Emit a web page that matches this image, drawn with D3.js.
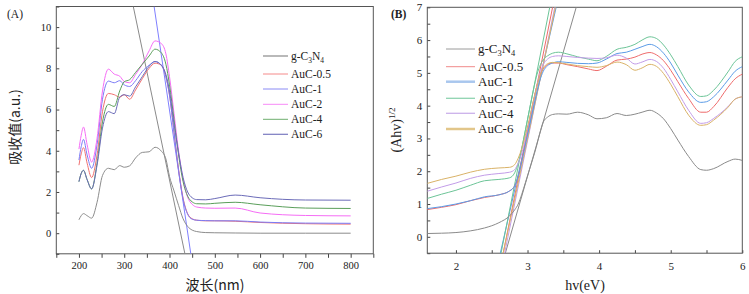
<!DOCTYPE html>
<html>
<head>
<meta charset="utf-8">
<style>
  body { margin: 0; background: #fff; }
  text { font-family: "Liberation Serif", "Times New Roman", serif; fill: #222; }
</style>
</head>
<body>
<script src="https://cdn.jsdelivr.net/npm/d3@7/dist/d3.min.js"></script>
<script>
// ---- data: panel A (absorbance vs wavelength) ----
var names = ["g-C3N4", "AuC-0.5", "AuC-1", "AuC-2", "AuC-4", "AuC-6"];
var waveNm = [200, 205, 210, 218, 228, 240, 252, 265, 278, 290, 300, 312, 325, 340, 355, 368, 382, 392, 400, 410, 420, 430, 440, 450, 460, 480, 500, 545, 600, 700, 800];
var absG   = [0.65, 0.85, 0.95, 0.85, 0.73, 1.5, 2.8, 3.15, 3.08, 3.28, 3.2, 3.27, 3.65, 3.92, 3.95, 4.17, 3.98, 3.6, 2.75, 2.05, 1.35, 0.7, 0.33, 0.15, 0.08, 0.03, 0.02, 0.01, 0, 0, 0];
var abs05  = [3.3, 3.85, 4.15, 3.4, 2.7, 3.8, 5.9, 6.78, 6.72, 6.6, 6.72, 6.5, 6.95, 7.5, 8.0, 8.25, 8.15, 7.6, 6.7, 4.9, 3.1, 1.7, 0.95, 0.7, 0.63, 0.6, 0.6, 0.58, 0.52, 0.46, 0.44];
var abs1   = [3.55, 4.2, 4.55, 3.8, 3.15, 4.3, 6.5, 7.38, 7.3, 7.4, 7.2, 7.12, 7.4, 7.85, 8.15, 8.33, 8.15, 7.6, 6.7, 4.9, 3.05, 1.65, 0.92, 0.68, 0.63, 0.61, 0.6, 0.6, 0.54, 0.49, 0.48];
var abs2   = [4.08, 4.75, 5.15, 4.3, 3.45, 4.6, 6.9, 7.96, 7.72, 7.62, 7.36, 7.3, 7.7, 8.2, 8.85, 9.33, 9.2, 8.7, 7.6, 5.8, 4.0, 2.6, 1.75, 1.4, 1.27, 1.22, 1.21, 1.22, 0.98, 0.86, 0.84];
var abs4   = [2.5, 2.9, 3.05, 2.6, 2.15, 3.4, 5.4, 6.25, 6.15, 6.9, 7.35, 7.45, 7.8, 8.2, 8.6, 8.93, 8.75, 8.2, 7.2, 5.5, 3.8, 2.5, 1.8, 1.52, 1.43, 1.42, 1.45, 1.5, 1.38, 1.22, 1.2];
var abs6   = [2.5, 2.9, 3.05, 2.6, 2.15, 3.3, 5.1, 5.9, 5.8, 6.6, 6.72, 6.65, 7.1, 7.6, 8.1, 8.33, 8.15, 7.7, 6.9, 5.3, 3.9, 2.7, 2.0, 1.72, 1.63, 1.62, 1.68, 1.85, 1.72, 1.61, 1.6];
// tangent lines in A: [x0, y0, x1, y1]
var tangA = [[320, 11, 434, -1], [366, 11, 447, -1]];

// ---- data: panel B (Tauc plot) ----
var energy = [1.6, 1.8, 2.0, 2.2, 2.4, 2.6, 2.75, 2.82, 2.87, 2.92, 2.97, 3.02, 3.07, 3.12, 3.17, 3.22, 3.28, 3.35, 3.43, 3.55, 3.7, 3.85, 3.97, 4.1, 4.25, 4.38, 4.5, 4.6, 4.71, 4.8, 4.9, 5.0, 5.1, 5.25, 5.42, 5.5, 5.6, 5.8, 5.9, 6.0];
var taucG  = [0.10, 0.11, 0.13, 0.18, 0.27, 0.43, 0.64, 0.82, 1.0, 1.3, 1.65, 2.0, 2.35, 2.72, 3.15, 3.5, 3.65, 3.73, 3.75, 3.74, 3.8, 3.72, 3.6, 3.63, 3.76, 3.7, 3.74, 3.8, 3.86, 3.78, 3.6, 3.3, 2.95, 2.45, 2.05, 2.03, 2.08, 2.3, 2.37, 2.33];
var tauc05 = [0.83, 0.9, 0.98, 1.1, 1.2, 1.28, 1.4, 1.55, 1.85, 2.35, 2.9, 3.45, 4.0, 4.5, 4.9, 5.12, 5.25, 5.3, 5.3, 5.25, 5.19, 5.12, 5.07, 5.2, 5.39, 5.42, 5.48, 5.57, 5.62, 5.55, 5.37, 5.08, 4.73, 4.22, 3.8, 3.8, 3.97, 4.56, 4.82, 4.96];
var tauc1  = [0.86, 0.92, 1.0, 1.1, 1.22, 1.28, 1.4, 1.55, 1.85, 2.3, 2.8, 3.3, 3.8, 4.3, 4.75, 5.05, 5.22, 5.3, 5.34, 5.32, 5.29, 5.28, 5.3, 5.42, 5.59, 5.63, 5.72, 5.8, 5.87, 5.8, 5.6, 5.3, 4.93, 4.42, 4.1, 4.12, 4.27, 4.78, 5.05, 5.19];
var tauc2  = [1.17, 1.3, 1.42, 1.57, 1.71, 1.75, 1.8, 1.95, 2.25, 2.7, 3.25, 3.8, 4.35, 4.85, 5.2, 5.4, 5.52, 5.6, 5.63, 5.58, 5.49, 5.42, 5.37, 5.5, 5.72, 5.78, 5.87, 6.0, 6.1, 6.05, 5.85, 5.55, 5.19, 4.63, 4.28, 4.3, 4.47, 5.03, 5.35, 5.49];
var tauc4  = [1.39, 1.52, 1.64, 1.78, 1.88, 1.93, 1.97, 2.05, 2.25, 2.55, 3.0, 3.5, 4.0, 4.5, 4.95, 5.25, 5.42, 5.5, 5.52, 5.5, 5.47, 5.45, 5.44, 5.46, 5.54, 5.45, 5.27, 5.33, 5.41, 5.35, 5.14, 4.8, 4.42, 3.86, 3.46, 3.48, 3.61, 3.97, 4.2, 4.27];
var tauc6  = [1.63, 1.75, 1.85, 1.97, 2.06, 2.1, 2.12, 2.2, 2.4, 2.7, 3.1, 3.55, 4.05, 4.5, 4.9, 5.15, 5.28, 5.32, 5.31, 5.27, 5.22, 5.19, 5.17, 5.22, 5.33, 5.25, 5.08, 5.15, 5.26, 5.2, 4.98, 4.65, 4.27, 3.71, 3.4, 3.42, 3.56, 3.95, 4.2, 4.27];
// tangent lines in B, in legend order
var tangB = [[2.69, -0.5, 3.68, 7], [2.66, -0.5, 3.35, 7], [2.62, -0.5, 3.40, 7], [2.63, -0.5, 3.31, 7], [2.68, -0.5, 3.38, 7], [2.66, -0.5, 3.39, 7]];

var colorsA = ["#8c8c8c", "#f07070", "#7a7af5", "#f56cf5", "#5a9e5a", "#6b6bb8"];
var colorsB = ["#8a8a8a", "#ee6b6b", "#5b9be6", "#6cc497", "#c29ce8", "#d9b267"];

var svg = d3.select("body").append("svg").attr("width", 749).attr("height", 294);

function steps(lo, hi, step) {
  var out = [];
  for (var k = Math.ceil(lo / step - 1e-9); k * step <= hi + 1e-9; k++) out.push(+(k * step).toFixed(6));
  return out;
}

function panel(cfg) {
  var x = d3.scaleLinear().domain(cfg.xd).range([cfg.l, cfg.r]);
  var y = d3.scaleLinear().domain(cfg.yd).range([cfg.b, cfg.t]);
  var g = svg.append("g");
  g.append("clipPath").attr("id", cfg.id).append("rect")
    .attr("x", cfg.l).attr("y", cfg.t).attr("width", cfg.r - cfg.l).attr("height", cfg.b - cfg.t);

  var isMajor = function(d, m) { return Math.abs(d / m - Math.round(d / m)) < 1e-6; };
  var xAx = g.append("g").attr("transform", "translate(0," + cfg.b + ")")
    .call(d3.axisBottom(x).tickValues(steps(cfg.xd[0], cfg.xd[1], cfg.xMinor))
      .tickSize(cfg.xTickIn ? -3 : 4).tickPadding(cfg.xTickIn ? 9 : 4)
      .tickFormat(function(d) { return isMajor(d, cfg.xMajor) && d >= cfg.xFirst ? d3.format("d")(d) : ""; }));
  var yAx = g.append("g").attr("transform", "translate(" + cfg.l + ",0)")
    .call(d3.axisLeft(y).tickValues(steps(cfg.yd[0], cfg.yd[1], cfg.yMinor))
      .tickSize(-3).tickPadding(5)
      .tickFormat(function(d) { return isMajor(d, cfg.yMajor) && d >= 0 ? d3.format("d")(d) : ""; }));
  [xAx, yAx].forEach(function(a) {
    a.select(".domain").remove();
    a.selectAll("line").attr("stroke", "#444");
    a.selectAll("text").attr("font-size", cfg.tickFont).attr("fill", "#222")
      .style("font-family", "'Liberation Serif', serif");
  });
  g.append("rect").attr("x", cfg.l).attr("y", cfg.t).attr("width", cfg.r - cfg.l).attr("height", cfg.b - cfg.t)
    .attr("fill", "none").attr("stroke", "#555").attr("stroke-width", 1);

  var plot = g.append("g").attr("clip-path", "url(#" + cfg.id + ")");
  plot.selectAll("line.tan").data(cfg.tangents).join("line").attr("class", "tan")
    .attr("x1", function(d) { return x(d[0]); }).attr("y1", function(d) { return y(d[1]); })
    .attr("x2", function(d) { return x(d[2]); }).attr("y2", function(d) { return y(d[3]); })
    .attr("stroke", function(d, i) { return cfg.tanColors[i]; }).attr("stroke-width", 1);

  var line = d3.line().curve(d3.curveMonotoneX)
    .x(function(d) { return x(d[0]); }).y(function(d) { return y(d[1]); });
  plot.selectAll("path.s").data(cfg.series).join("path").attr("class", "s")
    .attr("d", function(vals) { return line(cfg.xs.map(function(v, i) { return [v, vals[i]]; })); })
    .attr("fill", "none").attr("stroke", function(d, i) { return cfg.colors[i]; }).attr("stroke-width", 1);

  // legend
  var lg = g.append("g");
  names.forEach(function(n, i) {
    var yy = cfg.legY[i];
    lg.append("line").attr("x1", cfg.legX).attr("x2", cfg.legX + cfg.legW).attr("y1", yy).attr("y2", yy)
      .attr("stroke", cfg.legColors[i]).attr("stroke-width", cfg.legStroke[i]);
    var t = lg.append("text").attr("x", cfg.legX + cfg.legW + 3).attr("y", yy + cfg.legFont * 0.33)
      .attr("font-size", cfg.legFont);
    if (i === 0) {
      t.append("tspan").text("g-C");
      t.append("tspan").text("3").attr("font-size", cfg.legFont * 0.65).attr("dy", 3);
      t.append("tspan").text("N").attr("dy", -3);
      t.append("tspan").text("4").attr("font-size", cfg.legFont * 0.65).attr("dy", 3);
    } else {
      t.text(n);
    }
  });
}

panel({
  id: "clipA", l: 56.3, r: 373.3, t: 6.5, b: 253.8,
  xd: [150, 850], yd: [-1, 11], xMinor: 50, xMajor: 100, xFirst: 200, yMinor: 1, yMajor: 2,
  xTickIn: false, tickFont: 10.5,
  xs: waveNm, series: [absG, abs05, abs1, abs2, abs4, abs6], colors: colorsA,
  tangents: tangA, tanColors: ["#8a8a8a", "#7f7fff"],
  legX: 263, legW: 25, legY: [56, 74, 89, 104.3, 119.3, 134.3], legFont: 11.5,
  legColors: ["#a8a8a8", "#f58a8a", "#8a8af5", "#f78af7", "#6fae6f", "#7a7ac0"],
  legStroke: [1.6, 1, 1, 1, 1, 1.2]
});

panel({
  id: "clipB", l: 427.3, r: 742.3, t: 7.3, b: 253.2,
  xd: [1.6, 6], yd: [-0.5, 7], xMinor: 0.5, xMajor: 1, xFirst: 2, yMinor: 0.5, yMajor: 1,
  xTickIn: true, tickFont: 11,
  xs: energy, series: [taucG, tauc05, tauc1, tauc2, tauc4, tauc6], colors: colorsB,
  tangents: tangB, tanColors: colorsB,
  legX: 446, legW: 29, legY: [49, 66.7, 81.7, 98.3, 113.3, 129], legFont: 13,
  legColors: ["#9a9a9a", "#f08a8a", "#a9c7ee", "#8fd3b0", "#cbb0ea", "#e2c68a"],
  legStroke: [1, 1, 2.5, 1.3, 1.3, 2.5]
});

// axis titles and panel tags
svg.append("text").attr("transform", "translate(20,127) rotate(-90)")
  .attr("text-anchor", "middle").attr("font-size", 14).style("font-family", "'Noto Sans CJK SC', sans-serif")
  .text("吸收值(a.u.)");
svg.append("text").attr("x", 215).attr("y", 290).attr("text-anchor", "middle").attr("font-size", 14)
  .style("font-family", "'Noto Sans CJK SC', sans-serif").text("波长(nm)");
svg.append("text").attr("x", 7).attr("y", 18).attr("font-size", 11.5).text("(A)");

var yl = svg.append("text").attr("transform", "translate(401,130) rotate(-90)")
  .attr("text-anchor", "middle").attr("font-size", 14);
yl.append("tspan").text("(Ahv)");
yl.append("tspan").text("1/2").attr("font-size", 9).attr("dy", -6);
svg.append("text").attr("x", 585).attr("y", 290).attr("text-anchor", "middle").attr("font-size", 14).text("hv(eV)");
svg.append("text").attr("x", 391).attr("y", 18).attr("font-size", 11.5).attr("font-weight", "bold").text("(B)");
</script>
</body>
</html>
